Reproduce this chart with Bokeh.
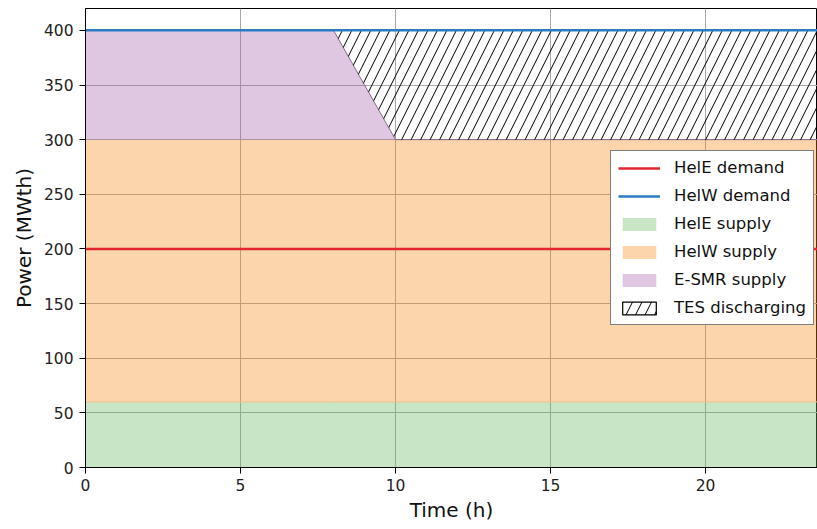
from bokeh.plotting import figure
from bokeh.models import Range1d, FixedTicker, Legend, LegendItem, ColumnDataSource
from bokeh.embed import file_html
from bokeh.resources import INLINE

# ---- data ----
time_h = [0, 8, 10, 24]
hele_demand = [200, 200, 200, 200]
helw_demand = [400, 400, 400, 400]
hele_supply = [60, 60, 60, 60]
helw_supply = [240, 240, 240, 240]
esmr_supply = [100, 100, 0, 0]
tes_discharging = [0, 0, 100, 100]
x_ticks = [0, 5, 10, 15, 20]
y_ticks = [0, 50, 100, 150, 200, 250, 300, 350, 400]

# stacked levels
lvl0 = [0] * len(time_h)
lvl1 = [a + b for a, b in zip(lvl0, hele_supply)]
lvl2 = [a + b for a, b in zip(lvl1, helw_supply)]
lvl3 = [a + b for a, b in zip(lvl2, esmr_supply)]
lvl4 = [a + b for a, b in zip(lvl3, tes_discharging)]

src = ColumnDataSource(dict(t=time_h, l0=lvl0, l1=lvl1, l2=lvl2, l3=lvl3, l4=lvl4,
                            hd=hele_demand, wd=helw_demand))

FONT = "DejaVu Sans"
A = 0.35
NAN = float("nan")

p = figure(width=817, height=529, x_range=Range1d(0, 23.61), y_range=Range1d(0, 420),
           output_backend="svg", toolbar_location=None,
           min_border_left=85, min_border_top=8, min_border_right=0, min_border_bottom=62)

r_green = p.varea(x="t", y1="l0", y2="l1", source=src, fill_color="#62b559", fill_alpha=A)
r_orange = p.varea(x="t", y1="l1", y2="l2", source=src, fill_color="#f98715", fill_alpha=A)
r_purple = p.varea(x="t", y1="l2", y2="l3", source=src, fill_color="#a45fac", fill_alpha=A)
p.line(x="t", y="l1", source=src, line_color="#f0c090", line_width=1)
p.line(x="t", y="l3", source=src, line_color="#8a6a8e", line_width=1)
r_tes = p.varea(x="t", y1="l3", y2="l4", source=src, fill_color=None,
                hatch_pattern="/", hatch_color="black", hatch_scale=19, hatch_weight=1)
# legend-only frame for the hatch swatch (no visible data)
r_tes_box = p.quad(left=[NAN], right=[NAN], top=[NAN], bottom=[NAN], fill_color=None,
                   line_color="black", line_width=1.2)
r_red = p.line(x="t", y="hd", source=src, line_color="#e3262d", line_width=2.5)
r_blue = p.line(x="t", y="wd", source=src, line_color="#2c7bc6", line_width=2.5)

# axes styling
for ax in (p.xaxis, p.yaxis):
    ax.axis_line_color = "black"
    ax.major_tick_line_color = "black"
    ax.minor_tick_line_color = None
    ax.major_tick_out = 6
    ax.major_tick_in = 0
    ax.major_label_text_font = FONT
    ax.major_label_text_font_size = "15.5px"
    ax.major_label_text_color = "#222222"
    ax.axis_label_text_font = FONT
    ax.axis_label_text_font_size = "20px"
    ax.axis_label_text_font_style = "normal"
    ax.axis_label_text_color = "#111111"

p.xaxis.ticker = FixedTicker(ticks=x_ticks)
p.yaxis.ticker = FixedTicker(ticks=y_ticks)
p.xaxis.axis_label = "Time (h)"
p.yaxis.axis_label = "Power (MWth)"
p.xaxis.major_label_standoff = 5
p.xaxis.axis_label_standoff = 4
p.yaxis.major_label_standoff = 6
p.yaxis.axis_label_standoff = 5

p.outline_line_color = "black"
p.outline_line_width = 1
p.grid.grid_line_color = "#a8a8a8"
p.grid.grid_line_width = 1

legend = Legend(items=[
    LegendItem(label="HelE demand", renderers=[r_red]),
    LegendItem(label="HelW demand", renderers=[r_blue]),
    LegendItem(label="HelE supply", renderers=[r_green]),
    LegendItem(label="HelW supply", renderers=[r_orange]),
    LegendItem(label="E-SMR supply", renderers=[r_purple]),
    LegendItem(label="TES discharging", renderers=[r_tes, r_tes_box]),
], location=(525, 142))
legend.label_text_font = FONT
legend.label_text_font_size = "16.5px"
legend.label_text_color = "#111111"
legend.glyph_width = 42
legend.glyph_height = 16
legend.spacing = 9
legend.padding = 7
legend.margin = 0
legend.label_standoff = 14
legend.border_line_color = "black"
legend.border_line_width = 1
legend.border_radius = 0
legend.background_fill_color = "white"
legend.background_fill_alpha = 1.0
p.add_layout(legend)

open("out.html", "w").write(file_html(p, INLINE))
